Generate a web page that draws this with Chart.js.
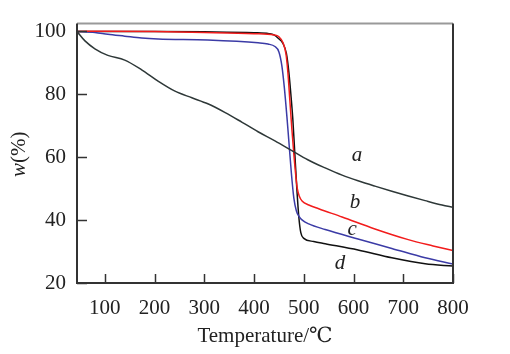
<!DOCTYPE html>
<html>
<head>
<meta charset="utf-8">
<script src="https://cdn.jsdelivr.net/npm/chart.js@4"></script>
<style>
html,body{margin:0;padding:0;background:#fff;}
#wrap{width:510px;height:354px;}
</style>
</head>
<body>
<div id="wrap"><canvas id="c" width="510" height="354"></canvas></div>
<script>
// ---- data ----
const tempA = [44, 60, 80, 106, 140, 174, 207, 241, 275, 307, 342, 376, 408, 442, 476, 508, 543, 577, 609, 643, 677, 710, 744, 778, 800];
const massA = [100, 97, 94.5, 92.4, 90.9, 87.8, 84.2, 81.0, 78.9, 77.0, 74.2, 71.1, 68.1, 65.2, 62.1, 59.2, 56.6, 54.3, 52.5, 50.8, 49.2, 47.7, 46.2, 44.8, 44.1];

const tempB = [44, 100, 200, 300, 400, 440, 450, 458, 464, 468, 472, 476, 480, 484, 487, 491, 497, 510, 530, 577, 643, 710, 760, 800];
const massB = [100, 100.1, 100, 99.7, 99.3, 98.9, 98.3, 96.5, 93, 87, 78, 69, 61, 54, 50, 47.6, 46, 44.8, 43.6, 41.0, 37.2, 33.8, 31.8, 30.3];

const tempC = [44, 80, 106, 140, 174, 207, 307, 408, 428, 442, 450, 456, 461, 466, 470, 475, 480, 485, 490, 497, 510, 543, 609, 677, 744, 800];
const massC = [100, 99.7, 99.1, 98.5, 97.9, 97.6, 97.3, 96.4, 96, 95.2, 93.5, 89, 82, 73, 65, 55, 47, 43, 41.3, 40, 38.8, 37, 34, 31, 28, 26];

const tempD = [44, 100, 200, 300, 400, 430, 440, 448, 458, 465, 470, 474, 478, 482, 486, 490, 494, 500, 520, 543, 609, 677, 744, 800];
const massD = [100, 100, 100, 99.9, 99.6, 99.3, 98.9, 97.9, 96.2, 93, 87, 80, 72, 61, 50, 41, 36, 34.2, 33.2, 32.5, 30.5, 28, 26.1, 25.4];

const xTicks = [100, 200, 300, 400, 500, 600, 700, 800];
const yTicks = [20, 40, 60, 80, 100];

const curveNames = ['a', 'b', 'c', 'd'];
const curveLabelAt = [[607, 60.5], [603, 45.6], [597, 37.0], [573, 26.1]];

// ---- chart ----
const serif = "'Liberation Serif', 'DejaVu Serif', 'Times New Roman', serif";
const pts = (xs, ys) => xs.map((x, i) => ({x: x, y: ys[i]}));

const frameAndTicks = {
  id: 'frameAndTicks',
  afterDatasetsDraw(chart) {
    const {ctx, chartArea: a, scales: {x, y}} = chart;
    ctx.save();
    ctx.lineCap = 'butt';
    // inward ticks
    ctx.strokeStyle = '#333';
    ctx.lineWidth = 1.5;
    x.ticks.forEach(t => {
      const px = Math.round(x.getPixelForValue(t.value)) + 0.5;
      ctx.beginPath(); ctx.moveTo(px, a.bottom); ctx.lineTo(px, a.bottom - 9); ctx.stroke();
    });
    y.ticks.forEach(t => {
      const py = Math.round(y.getPixelForValue(t.value)) + 0.5;
      ctx.beginPath(); ctx.moveTo(a.left, py); ctx.lineTo(a.left + 10, py); ctx.stroke();
    });
    // frame
    ctx.lineWidth = 2;
    ctx.strokeStyle = '#999';
    ctx.beginPath(); ctx.moveTo(a.left, a.top); ctx.lineTo(a.right, a.top); ctx.stroke();
    ctx.strokeStyle = '#333';
    ctx.beginPath();
    ctx.moveTo(a.right, a.top); ctx.lineTo(a.right, a.bottom);
    ctx.lineTo(a.left, a.bottom); ctx.lineTo(a.left, a.top);
    ctx.stroke();
    // curve labels
    ctx.fillStyle = '#222';
    ctx.font = "italic 21px " + serif;
    ctx.textAlign = 'center';
    ctx.textBaseline = 'middle';
    curveNames.forEach((n, i) => {
      ctx.fillText(n, x.getPixelForValue(curveLabelAt[i][0]), y.getPixelForValue(curveLabelAt[i][1]));
    });
    // y title: w(%)
    ctx.translate(19, (a.top + a.bottom) / 2 + 1);
    ctx.rotate(-Math.PI / 2);
    ctx.textAlign = 'left';
    ctx.font = "italic 21px " + serif;
    const w1 = ctx.measureText('w').width;
    ctx.font = "21px " + serif;
    const w2 = ctx.measureText('(%)').width;
    const start = -(w1 + w2) / 2;
    ctx.font = "italic 21px " + serif;
    ctx.fillText('w', start, 0);
    ctx.font = "21px " + serif;
    ctx.fillText('(%)', start + w1, 0);
    ctx.restore();
  }
};

const ds = (label, xs, ys, color) => ({
  label: label,
  data: pts(xs, ys),
  borderColor: color,
  borderWidth: 1.5,
  pointRadius: 0,
  fill: false,
  cubicInterpolationMode: 'monotone',
  tension: 0.4
});

new Chart(document.getElementById('c'), {
  type: 'line',
  data: {
    datasets: [
      ds('a', tempA, massA, '#2e3838'),
      ds('b', tempB, massB, '#f21c1c'),
      ds('c', tempC, massC, '#3b3ba6'),
      ds('d', tempD, massD, '#111111')
    ]
  },
  options: {
    responsive: false,
    animation: false,
    layout: {padding: {top: 12, right: 57, left: 0, bottom: 0}},
    plugins: {legend: {display: false}, tooltip: {enabled: false}},
    scales: {
      x: {
        type: 'linear', min: 44, max: 800,
        afterBuildTicks: s => { s.ticks = xTicks.map(v => ({value: v})); },
        afterFit: s => { s.height = 71; },
        grid: {display: false, drawTicks: false},
        border: {display: false},
        ticks: {font: {family: serif, size: 21}, color: '#222', padding: 13, maxRotation: 0, autoSkip: false},
        title: {display: true, text: 'Temperature/℃', font: {family: serif, size: 21}, color: '#222', padding: {top: 0, bottom: 5}}
      },
      y: {
        type: 'linear', min: 20, max: 102.5,
        afterBuildTicks: s => { s.ticks = yTicks.map(v => ({value: v})); },
        afterFit: s => { s.width = 77; },
        grid: {display: false, drawTicks: false},
        border: {display: false},
        ticks: {font: {family: serif, size: 21}, color: '#222', padding: 11}
      }
    }
  },
  plugins: [frameAndTicks]
});
</script>
</body>
</html>
